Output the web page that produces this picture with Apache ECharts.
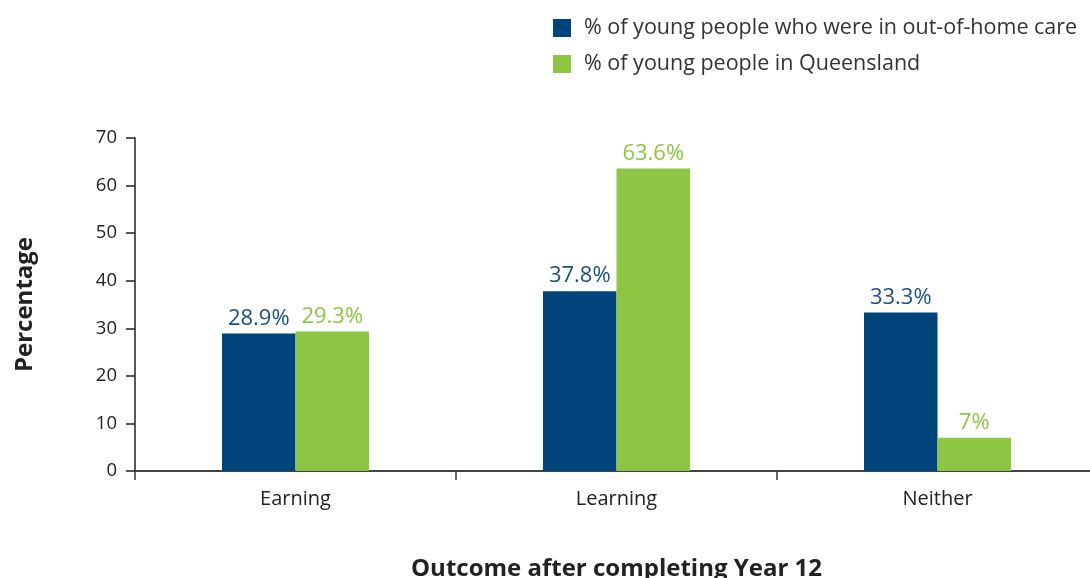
<!DOCTYPE html>
<html><head><meta charset="utf-8">
<script src="https://cdn.jsdelivr.net/npm/echarts@6/dist/echarts.min.js"></script>
<style>html,body{margin:0;padding:0;background:#fff}#c{width:1090px;height:578px}</style>
</head><body><div id="c"></div>
<script>
var categories = ['Earning', 'Learning', 'Neither'];
var outOfHomeCare = [28.9, 37.8, 33.3];
var queensland = [29.3, 63.6, 7];
var seriesNames = ['% of young people who were in out-of-home care', '% of young people in Queensland'];
var yTicks = [0, 10, 20, 30, 40, 50, 60, 70];

var FONT = '"Open Sans", "Noto Sans", sans-serif';
var chart = echarts.init(document.getElementById('c'), null, {renderer: 'canvas'});
function fmt(p) { return p.value + '%'; }
chart.setOption({
  animation: false,
  textStyle: {fontFamily: FONT},
  legend: {
    orient: 'vertical', left: 553, top: 17, padding: 0,
    itemWidth: 18, itemHeight: 18, itemGap: 14,
    icon: 'rect',
    textStyle: {fontFamily: FONT, fontSize: 21.5, color: '#333', padding: [0, 0, 0, 8]},
    data: seriesNames
  },
  grid: {left: 135, right: -8, top: 138, bottom: 107, containLabel: false, outerBoundsMode: 'none'},
  xAxis: {
    type: 'category', data: categories,
    name: 'Outcome after completing Year 12', nameLocation: 'middle', nameGap: 86,
    nameTextStyle: {fontFamily: FONT, fontSize: 24, fontWeight: 'bold', color: '#222'},
    axisLine: {lineStyle: {color: '#444', width: 2}},
    axisTick: {show: true, length: 9, lineStyle: {color: '#333', width: 1.5}},
    axisLabel: {fontFamily: FONT, fontSize: 20, color: '#222', margin: 18}
  },
  yAxis: {
    type: 'value', min: yTicks[0], max: yTicks[yTicks.length - 1], interval: 10,
    name: 'Percentage', nameLocation: 'middle', nameGap: 98,
    nameTextStyle: {fontFamily: FONT, fontSize: 24, fontWeight: 'bold', color: '#222'},
    axisLine: {show: true, lineStyle: {color: '#222', width: 1.5}},
    axisTick: {show: true, length: 9, lineStyle: {color: '#222', width: 1.5}},
    axisLabel: {fontFamily: FONT, fontSize: 18.5, color: '#222', margin: 18},
    splitLine: {show: false}
  },
  series: [
    {name: seriesNames[0], type: 'bar', data: outOfHomeCare, barWidth: 73.5, barGap: '0%',
     itemStyle: {color: '#00447c'},
     label: {show: true, position: 'top', distance: 4, formatter: fmt, fontFamily: FONT, fontSize: 22, color: '#1d4f80'}},
    {name: seriesNames[1], type: 'bar', data: queensland, barWidth: 73.5, barGap: '0%',
     itemStyle: {color: '#8dc642'},
     label: {show: true, position: 'top', distance: 4, formatter: fmt, fontFamily: FONT, fontSize: 22, color: '#8dc642'}}
  ]
});
</script></body></html>
